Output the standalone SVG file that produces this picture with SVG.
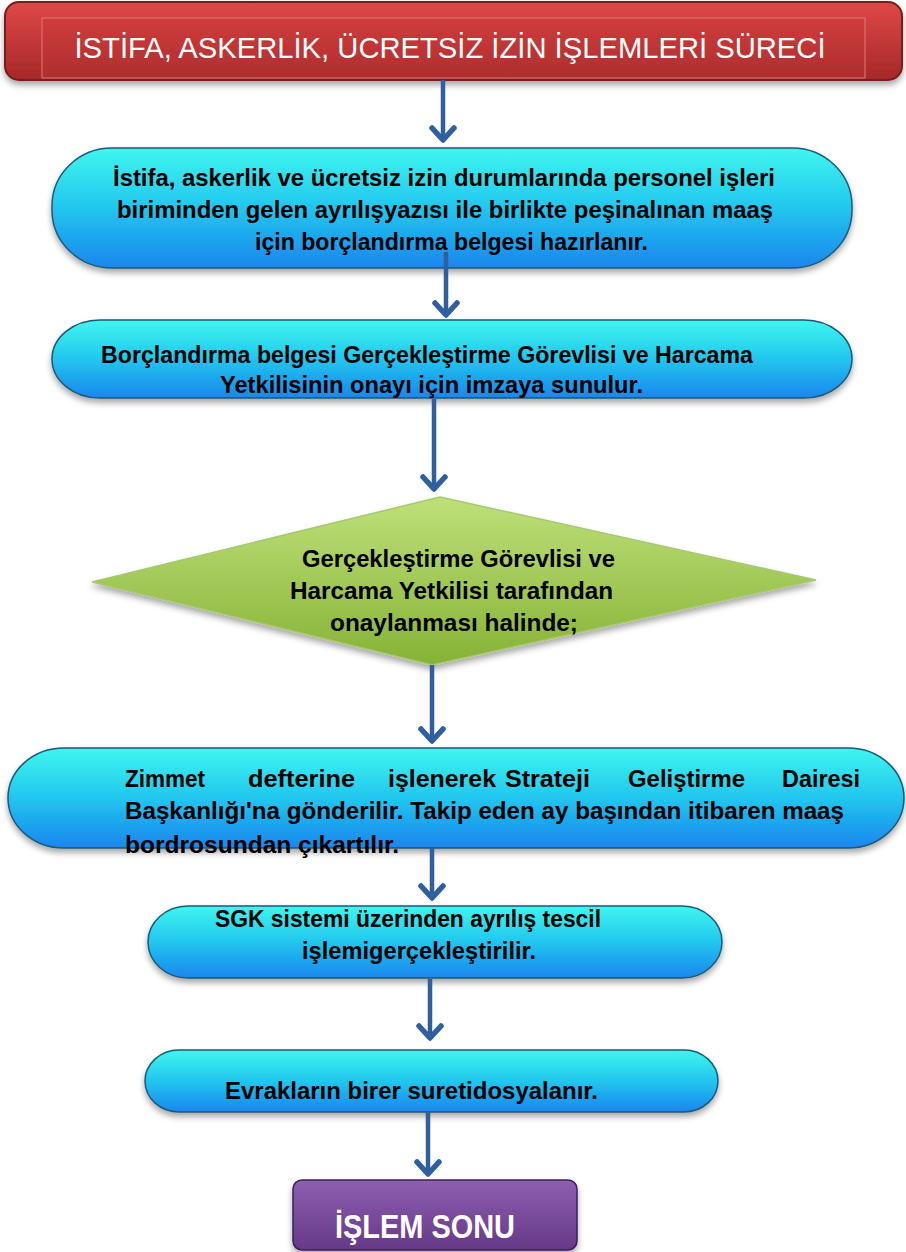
<svg xmlns="http://www.w3.org/2000/svg" width="906" height="1252" viewBox="0 0 906 1252">
<defs>
<linearGradient id="gCyan" x1="0" y1="0" x2="0" y2="1">
<stop offset="0" stop-color="#3ff6ee"/>
<stop offset="0.5" stop-color="#22c6ee"/>
<stop offset="1" stop-color="#1a86ee"/>
</linearGradient>
<linearGradient id="gRed" x1="0" y1="0" x2="0" y2="1">
<stop offset="0" stop-color="#e04848"/>
<stop offset="1" stop-color="#a52828"/>
</linearGradient>
<linearGradient id="gRedIn" x1="0" y1="0" x2="0" y2="1">
<stop offset="0" stop-color="#d03c3c"/>
<stop offset="1" stop-color="#ae2e2e"/>
</linearGradient>
<linearGradient id="gGreen" x1="0" y1="0" x2="0" y2="1">
<stop offset="0" stop-color="#bfe07a"/>
<stop offset="1" stop-color="#86b236"/>
</linearGradient>
<linearGradient id="gPurple" x1="0" y1="0" x2="0" y2="1">
<stop offset="0" stop-color="#8e5fb0"/>
<stop offset="1" stop-color="#663888"/>
</linearGradient>
<filter id="sh" x="-5%" y="-20%" width="110%" height="150%">
<feDropShadow dx="0" dy="4" stdDeviation="3" flood-color="#000" flood-opacity="0.35"/>
</filter>
</defs>
<style>
.pill{fill:url(#gCyan);stroke:#1a5a7a;stroke-width:1.5;filter:url(#sh)}
.t{font-family:"Liberation Sans",Arial,sans-serif;font-weight:bold;font-size:24px;fill:#000}
.w{font-family:"Liberation Sans",Arial,sans-serif;fill:#fff}
.ln{stroke:#2f5f9e;stroke-width:4.5;fill:none}
.hd{stroke:#2f5f9e;stroke-width:5.5;fill:none;stroke-linecap:round;stroke-linejoin:round}
</style>
<rect width="906" height="1252" fill="#fff"/>

<g id="title">
<rect x="5" y="2" width="897" height="78" rx="14" fill="url(#gRed)" stroke="#7a1c1c" stroke-width="2" filter="url(#sh)"/>
<rect x="42" y="18" width="823" height="60" fill="url(#gRedIn)" stroke="#e07a7a" stroke-width="1"/>
<text class="w" x="450" y="58" font-size="30" text-anchor="middle" textLength="751" lengthAdjust="spacingAndGlyphs">İSTİFA, ASKERLİK, ÜCRETSİZ İZİN İŞLEMLERİ SÜRECİ</text>
</g>

<g id="n1">
<rect class="pill" x="52" y="148" width="800" height="120" rx="60" ry="58"/>
<text class="t" x="113" y="186" textLength="662" lengthAdjust="spacingAndGlyphs">İstifa, askerlik ve ücretsiz izin durumlarında personel işleri</text>
<text class="t" x="117" y="218" textLength="656" lengthAdjust="spacingAndGlyphs">biriminden gelen ayrılışyazısı ile birlikte peşinalınan maaş</text>
<text class="t" x="255" y="250" textLength="393" lengthAdjust="spacingAndGlyphs">için borçlandırma belgesi hazırlanır.</text>
</g>

<g id="n2">
<rect class="pill" x="52" y="320" width="800" height="78" rx="48" ry="39"/>
<text class="t" x="101" y="363" textLength="652" lengthAdjust="spacingAndGlyphs">Borçlandırma belgesi Gerçekleştirme Görevlisi ve Harcama</text>
<text class="t" x="220" y="393" textLength="423" lengthAdjust="spacingAndGlyphs">Yetkilisinin onayı için imzaya sunulur.</text>
</g>

<g id="n3">
<polygon points="92,582 440,497 816,580 432,665" fill="url(#gGreen)" stroke="#a8c870" stroke-width="1.5" filter="url(#sh)"/>
<text class="t" x="302" y="567" textLength="313" lengthAdjust="spacingAndGlyphs">Gerçekleştirme Görevlisi ve</text>
<text class="t" x="290" y="599" textLength="323" lengthAdjust="spacingAndGlyphs">Harcama Yetkilisi tarafından</text>
<text class="t" x="330" y="631" textLength="248" lengthAdjust="spacingAndGlyphs">onaylanması halinde;</text>
</g>

<g id="n4">
<rect class="pill" x="8" y="748" width="896" height="100" rx="56" ry="50"/>
<text class="t" x="125" y="787" textLength="80" lengthAdjust="spacingAndGlyphs">Zimmet</text>
<text class="t" x="248" y="787" textLength="107" lengthAdjust="spacingAndGlyphs">defterine</text>
<text class="t" x="388" y="787" textLength="108" lengthAdjust="spacingAndGlyphs">işlenerek</text>
<text class="t" x="505" y="787" textLength="85" lengthAdjust="spacingAndGlyphs">Strateji</text>
<text class="t" x="628" y="787" textLength="117" lengthAdjust="spacingAndGlyphs">Geliştirme</text>
<text class="t" x="782" y="787" textLength="78" lengthAdjust="spacingAndGlyphs">Dairesi</text>
<text class="t" x="125" y="819" textLength="719" lengthAdjust="spacingAndGlyphs">Başkanlığı'na gönderilir. Takip eden ay başından itibaren maaş</text>
<text class="t" x="125" y="853" textLength="274" lengthAdjust="spacingAndGlyphs">bordrosundan çıkartılır.</text>
</g>

<g id="n5">
<rect class="pill" x="148" y="906" width="574" height="72" rx="40" ry="36"/>
<text class="t" x="215" y="927" textLength="386" lengthAdjust="spacingAndGlyphs">SGK sistemi üzerinden ayrılış tescil</text>
<text class="t" x="302" y="959" textLength="234" lengthAdjust="spacingAndGlyphs">işlemigerçekleştirilir.</text>
</g>

<g id="n6">
<rect class="pill" x="145" y="1050" width="573" height="62" rx="34" ry="31"/>
<text class="t" x="225" y="1099" textLength="373" lengthAdjust="spacingAndGlyphs">Evrakların birer suretidosyalanır.</text>
</g>

<g id="end">
<rect x="293" y="1180" width="284" height="70" rx="9" fill="url(#gPurple)" stroke="#3e1f55" stroke-width="1.5" filter="url(#sh)"/>
<text class="w" x="335" y="1238" font-size="34" font-weight="bold" textLength="180" lengthAdjust="spacingAndGlyphs">İŞLEM SONU</text>
</g>

<g id="connectors">
<line class="ln" x1="443" y1="80" x2="443" y2="138"/>
<path class="hd" d="M432,128 L443,140 L454,128"/>
<line class="ln" x1="446" y1="252" x2="446" y2="313"/>
<path class="hd" d="M435,303 L446,315 L457,303"/>
<line class="ln" x1="434" y1="399" x2="434" y2="487"/>
<path class="hd" d="M423,477 L434,489 L445,477"/>
<line class="ln" x1="432" y1="665" x2="432" y2="739"/>
<path class="hd" d="M421,729 L432,741 L443,729"/>
<line class="ln" x1="432" y1="848" x2="432" y2="896"/>
<path class="hd" d="M421,886 L432,898 L443,886"/>
<line class="ln" x1="430" y1="979" x2="430" y2="1036"/>
<path class="hd" d="M419,1026 L430,1038 L441,1026"/>
<line class="ln" x1="428" y1="1112" x2="428" y2="1172"/>
<path class="hd" d="M417,1162 L428,1174 L439,1162"/>
</g>
</svg>
